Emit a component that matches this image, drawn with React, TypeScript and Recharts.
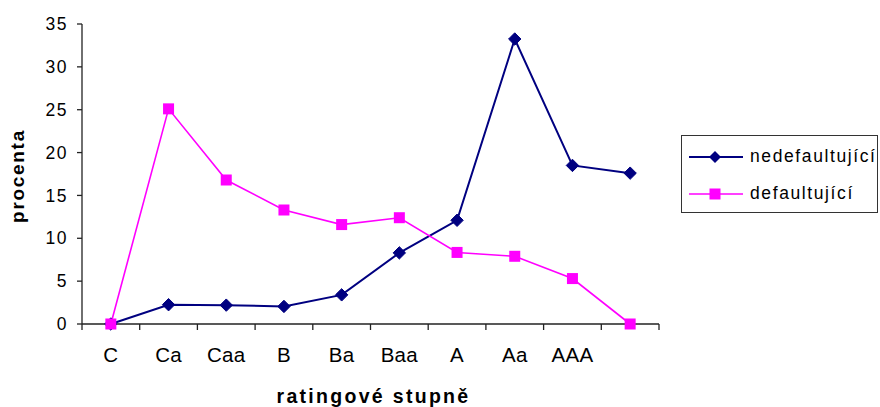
import React from 'react';
import { LineChart, Line, XAxis, YAxis, Legend, Label } from 'recharts';

// Rating grades (the last class has no printed name)
const categories = ['C', 'Ca', 'Caa', 'B', 'Ba', 'Baa', 'A', 'Aa', 'AAA', ''];
// Share of non-defaulting issuers per grade, %
const nedefaultujici = [0, 2.25, 2.2, 2.05, 3.4, 8.3, 12.1, 33.25, 18.5, 17.6];
// Share of defaulting issuers per grade, %
const defaultujici = [0, 25.1, 16.8, 13.3, 11.6, 12.4, 8.35, 7.9, 5.3, 0];
const yTicks = [0, 5, 10, 15, 20, 25, 30, 35];
const seriesOrder = ['nedefaultující', 'defaultující'];

const NAVY = '#000080';
const MAGENTA = '#FF00FF';
const FONT = '"Liberation Sans", Arial, sans-serif';

const W = 880;
const H = 407;
const LEGEND_W = 197;
const MARGIN = { top: 24, right: 221 - LEGEND_W, left: 0, bottom: 0 };
const Y_AXIS_W = 82;
const X_AXIS_H = 83;
const PLOT_W = W - 221 - Y_AXIS_W;
const HALF_STEP = PLOT_W / categories.length / 2;

const data = categories.map((c, i) => ({
  x: i + 0.5,
  name: c,
  nedefaultujici: nedefaultujici[i],
  defaultujici: defaultujici[i],
}));
const xTicks = categories.map((_, i) => i).concat([categories.length]);

const Diamond = (props: any) => {
  const { cx, cy, index } = props;
  const r = 6.2;
  return (
    <path
      key={`d-${index}`}
      d={`M${cx},${cy - r}L${cx + r},${cy}L${cx},${cy + r}L${cx - r},${cy}Z`}
      fill={NAVY}
      stroke={NAVY}
      strokeWidth={1}
    />
  );
};

const Square = (props: any) => {
  const { cx, cy, index } = props;
  const r = 5.5;
  return (
    <rect key={`s-${index}`} x={cx - r} y={cy - r} width={2 * r} height={2 * r} fill={MAGENTA} />
  );
};

const XTick = (props: any) => {
  const { x, y, payload } = props;
  const label = categories[payload.value];
  if (!label) return <g />;
  return (
    <text
      x={x + HALF_STEP}
      y={y + 32}
      textAnchor="middle"
      fontFamily={FONT}
      fontSize={20.5}
      letterSpacing={0.3}
      fill="#000"
    >
      {label}
    </text>
  );
};

const LegendBox = (props: any) => {
  const items = [...(props.payload || [])].sort(
    (a: any, b: any) => seriesOrder.indexOf(a.value) - seriesOrder.indexOf(b.value)
  );
  return (
    <div
      style={{
        width: LEGEND_W - 2,
        height: 74,
        border: '1px solid #333',
        background: '#fff',
        fontFamily: FONT,
        fontSize: 17.5,
        letterSpacing: 1.6,
        color: '#000',
        boxSizing: 'content-box',
        paddingTop: 2,
      }}
    >
      {items.map((it: any) => {
        const isNavy = it.value === 'nedefaultující';
        const color = isNavy ? NAVY : MAGENTA;
        return (
          <div
            key={it.value}
            style={{ display: 'flex', alignItems: 'center', height: 37, whiteSpace: 'nowrap' }}
          >
            <svg width={61} height={16} style={{ marginLeft: 7, flex: 'none' }}>
              <line x1={0} y1={8} x2={54} y2={8} stroke={color} strokeWidth={isNavy ? 2 : 1.6} />
              {isNavy ? (
                <path d="M26,2L32,8L26,14L20,8Z" fill={NAVY} />
              ) : (
                <rect x={20.5} y={2.5} width={11} height={11} fill={MAGENTA} />
              )}
            </svg>
            <span>{it.value}</span>
          </div>
        );
      })}
    </div>
  );
};

export default function App() {
  return (
    <div style={{ position: 'absolute', left: 0, top: 0, width: W, height: H, background: '#fff' }}>
      <LineChart width={W} height={H} data={data} margin={MARGIN}>
        <XAxis
          dataKey="x"
          type="number"
          domain={[0, categories.length]}
          ticks={xTicks}
          interval={0}
          height={X_AXIS_H}
          stroke="#222"
          tickSize={6}
          tickMargin={0}
          tick={<XTick />}
          axisLine={{ stroke: '#222', strokeWidth: 1.3 }}
          tickLine={{ stroke: '#222', strokeWidth: 1.3 }}
        >
          <Label
            content={(p: any) => {
              const vb = p.viewBox || {};
              return (
                <text
                  x={vb.x + vb.width / 2 + 3}
                  y={vb.y + 79}
                  textAnchor="middle"
                  fontFamily={FONT}
                  fontWeight="bold"
                  fontSize={19.5}
                  letterSpacing={2.3}
                  fill="#000"
                >
                  ratingové stupně
                </text>
              );
            }}
          />
        </XAxis>
        <YAxis
          type="number"
          domain={[0, 35]}
          ticks={yTicks}
          width={Y_AXIS_W}
          tickSize={5}
          tickMargin={9}
          axisLine={{ stroke: '#222', strokeWidth: 1.3 }}
          tickLine={{ stroke: '#222', strokeWidth: 1.3 }}
          tick={{ fill: '#000', fontSize: 17.5, fontFamily: FONT, letterSpacing: 1.5 }}
        >
          <Label
            content={(p: any) => {
              const vb = p.viewBox || {};
              const cx = 23.5;
              const cy = vb.y + vb.height / 2 + 2;
              return (
                <text
                  x={cx}
                  y={cy}
                  transform={`rotate(-90, ${cx}, ${cy})`}
                  textAnchor="middle"
                  fontFamily={FONT}
                  fontWeight="bold"
                  fontSize={19}
                  letterSpacing={1.7}
                  fill="#000"
                >
                  procenta
                </text>
              );
            }}
          />
        </YAxis>
        <Legend
          layout="vertical"
          align="right"
          verticalAlign="top"
          content={<LegendBox />}
          wrapperStyle={{ left: 681, top: 135, width: LEGEND_W, right: 'auto', bottom: 'auto' }}
        />
        <Line
          type="linear"
          dataKey="nedefaultujici"
          name="nedefaultující"
          stroke={NAVY}
          strokeWidth={2}
          dot={Diamond}
          activeDot={false}
          isAnimationActive={false}
        />
        <Line
          type="linear"
          dataKey="defaultujici"
          name="defaultující"
          stroke={MAGENTA}
          strokeWidth={1.6}
          dot={Square}
          activeDot={false}
          isAnimationActive={false}
        />
      </LineChart>
    </div>
  );
}
